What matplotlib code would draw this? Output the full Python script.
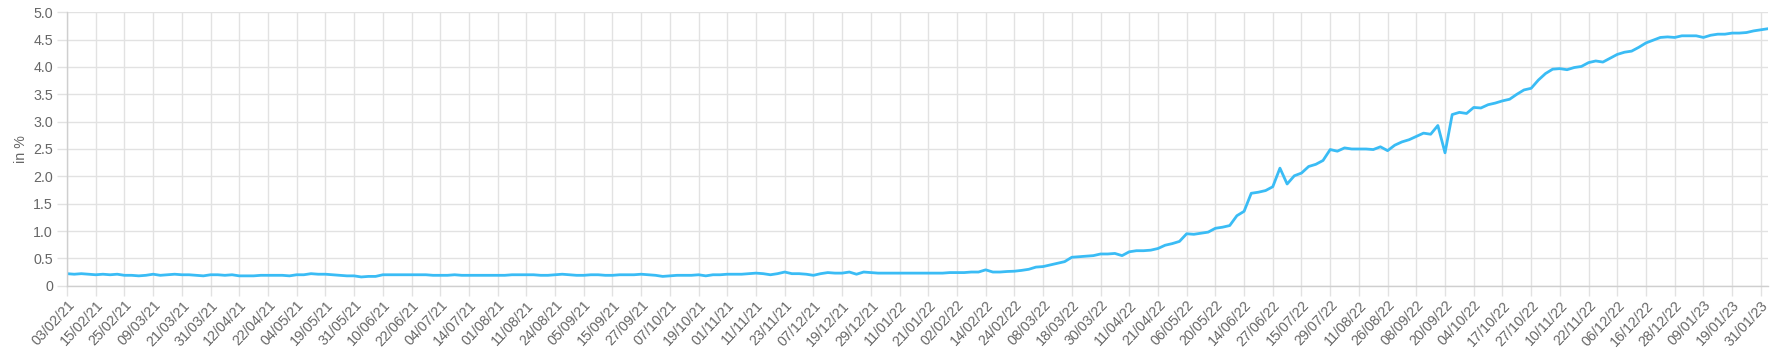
import numpy as np
import matplotlib
matplotlib.use("Agg")
import matplotlib.pyplot as plt

# tick labels shown on the x axis (every 8th trading day)
tick_labels = [
    "03/02/21", "15/02/21", "25/02/21", "09/03/21", "21/03/21", "31/03/21",
    "12/04/21", "22/04/21", "04/05/21", "19/05/21", "31/05/21", "10/06/21",
    "22/06/21", "04/07/21", "14/07/21", "01/08/21", "11/08/21", "24/08/21",
    "05/09/21", "15/09/21", "27/09/21", "07/10/21", "19/10/21", "01/11/21",
    "11/11/21", "23/11/21", "07/12/21", "19/12/21", "29/12/21", "11/01/22",
    "21/01/22", "02/02/22", "14/02/22", "24/02/22", "08/03/22", "18/03/22",
    "30/03/22", "11/04/22", "21/04/22", "06/05/22", "20/05/22", "14/06/22",
    "27/06/22", "15/07/22", "29/07/22", "11/08/22", "26/08/22", "08/09/22",
    "20/09/22", "04/10/22", "17/10/22", "27/10/22", "10/11/22", "22/11/22",
    "06/12/22", "16/12/22", "28/12/22", "09/01/23", "19/01/23", "31/01/23",
]

# rate in %, 4 readings per labelled interval
rate = [
    0.22, 0.21, 0.22, 0.21,  0.20, 0.21, 0.20, 0.21,  0.19, 0.19, 0.18, 0.19,
    0.21, 0.19, 0.20, 0.21,  0.20, 0.20, 0.19, 0.18,  0.20, 0.20, 0.19, 0.20,
    0.18, 0.18, 0.18, 0.19,  0.19, 0.19, 0.19, 0.18,  0.20, 0.20, 0.22, 0.21,
    0.21, 0.20, 0.19, 0.18,  0.18, 0.16, 0.17, 0.17,  0.20, 0.20, 0.20, 0.20,
    0.20, 0.20, 0.20, 0.19,  0.19, 0.19, 0.20, 0.19,  0.19, 0.19, 0.19, 0.19,
    0.19, 0.19, 0.20, 0.20,  0.20, 0.20, 0.19, 0.19,  0.20, 0.21, 0.20, 0.19,
    0.19, 0.20, 0.20, 0.19,  0.19, 0.20, 0.20, 0.20,  0.21, 0.20, 0.19, 0.17,
    0.18, 0.19, 0.19, 0.19,  0.20, 0.18, 0.20, 0.20,  0.21, 0.21, 0.21, 0.22,
    0.23, 0.22, 0.20, 0.22,  0.25, 0.22, 0.22, 0.21,  0.19, 0.22, 0.24, 0.23,
    0.23, 0.25, 0.21, 0.25,  0.24, 0.23, 0.23, 0.23,  0.23, 0.23, 0.23, 0.23,
    0.23, 0.23, 0.23, 0.24,  0.24, 0.24, 0.25, 0.25,  0.29, 0.25, 0.25, 0.26,
    0.265, 0.28, 0.30, 0.34, 0.35, 0.38, 0.41, 0.44,  0.52, 0.53, 0.54, 0.55,
    0.58, 0.58, 0.59, 0.55,  0.62, 0.64, 0.64, 0.65,  0.68, 0.74, 0.77, 0.81,
    0.95, 0.94, 0.96, 0.98,  1.05, 1.07, 1.10, 1.28,  1.36, 1.69, 1.71, 1.74,
    1.81, 2.15, 1.86, 2.01,  2.06, 2.18, 2.22, 2.29,  2.49, 2.46, 2.52, 2.50,
    2.50, 2.50, 2.49, 2.54,  2.47, 2.57, 2.63, 2.67,  2.73, 2.79, 2.77, 2.93,
    2.43, 3.13, 3.17, 3.15,  3.26, 3.25, 3.31, 3.34,  3.38, 3.41, 3.50, 3.58,
    3.61, 3.76, 3.88, 3.96,  3.97, 3.95, 3.99, 4.01,  4.08, 4.11, 4.09, 4.16,
    4.23, 4.27, 4.29, 4.36,  4.44, 4.49, 4.54, 4.55,  4.54, 4.57, 4.57, 4.57,
    4.54, 4.58, 4.60, 4.60,  4.62, 4.62, 4.63, 4.66,  4.68, 4.70,
]

y_ticks = [0, 0.5, 1.0, 1.5, 2.0, 2.5, 3.0, 3.5, 4.0, 4.5, 5.0]
y_tick_labels = ["0", "0.5", "1.0", "1.5", "2.0", "2.5", "3.0", "3.5", "4.0", "4.5", "5.0"]

plt.rcParams["font.family"] = ["Liberation Sans", "DejaVu Sans"]

W, H = 1779, 360
fig = plt.figure(figsize=(W / 100, H / 100), dpi=100)
ax = fig.add_axes([67 / W, 1 - 285.7 / H, (1768 - 67) / W, (285.7 - 12.3) / H])

x = np.arange(len(rate)) / 4.0
ax.plot(x, rate, color="#3abcf5", linewidth=2.0, solid_joinstyle="round")

grid_col = "#e2e2e2"
ax.set_xlim(0, x[-1])
ax.set_ylim(0, 5)
ax.set_xticks(np.arange(len(tick_labels)))
ax.set_xticklabels(tick_labels, rotation=47, ha="right", va="top",
                   rotation_mode="anchor")
ax.set_yticks(y_ticks)
ax.set_yticklabels(y_tick_labels)
ax.grid(True, color=grid_col, linewidth=1)
ax.set_axisbelow(True)

ax.tick_params(axis="both", colors=grid_col, labelcolor="#666666",
               labelsize=10.3, length=7, width=1)
ax.tick_params(axis="x", pad=2)
ax.tick_params(axis="y", pad=3)

for side in ["top", "right"]:
    ax.spines[side].set_visible(False)
for side in ["left", "bottom"]:
    ax.spines[side].set_color("#cfcfcf")
    ax.spines[side].set_linewidth(1)

ax.set_ylabel("in %", color="#666666", fontsize=10.3, labelpad=4)

fig.savefig("out.png", dpi=100)
